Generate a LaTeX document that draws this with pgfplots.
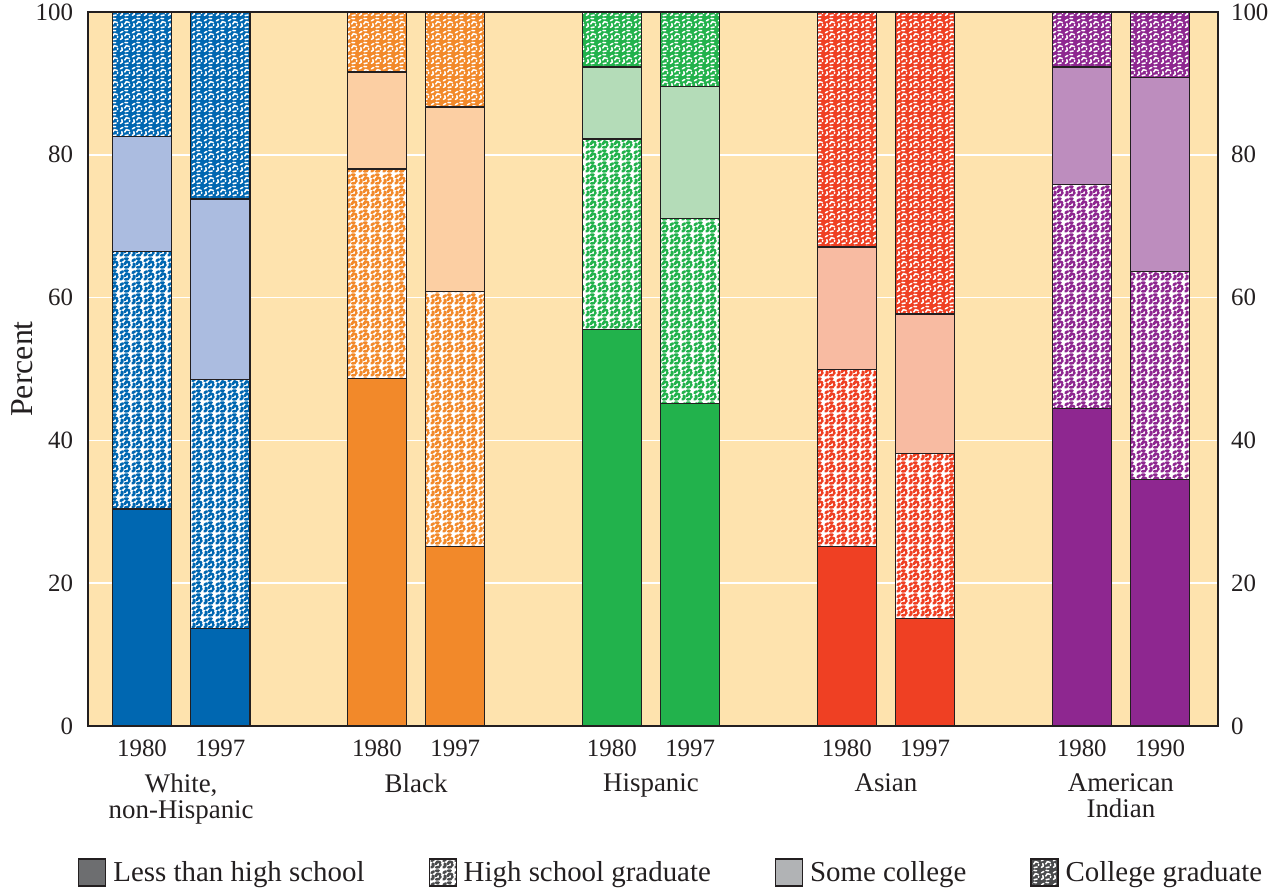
\documentclass[border=0pt]{standalone}
\usepackage{fontspec}
\setmainfont{Liberation Serif}
\usepackage{pgfplots}
\pgfplotsset{compat=1.18}
\usetikzlibrary{patterns}

\definecolor{bg}{HTML}{FEE3AE}
\definecolor{linec}{HTML}{231F20}
\definecolor{cB}{HTML}{0067B1}
\definecolor{cBl}{HTML}{ABBCE0}
\definecolor{cO}{HTML}{F2892A}
\definecolor{cOl}{HTML}{FCCFA3}
\definecolor{cG}{HTML}{22B24C}
\definecolor{cGl}{HTML}{B4DCB8}
\definecolor{cR}{HTML}{EF4023}
\definecolor{cRl}{HTML}{F8BBA2}
\definecolor{cP}{HTML}{8E2790}
\definecolor{cPl}{HTML}{BD8DBE}
\definecolor{gD}{HTML}{6D6E70}
\definecolor{gL}{HTML}{B1B3B5}
\definecolor{gP}{HTML}{4A4B4D}

\pgfdeclarepatternformonly{wormsA}{\pgfqpoint{0pt}{0pt}}{\pgfqpoint{6pt}{6pt}}{\pgfqpoint{6pt}{6pt}}{%
 \pgfsetlinewidth{1.35pt}\pgfsetroundcap\pgfsetroundjoin
 \pgfpathmoveto{\pgfqpoint{0.8pt}{0.8pt}}\pgfpathlineto{\pgfqpoint{1.7pt}{1.5pt}}\pgfpathlineto{\pgfqpoint{1.4pt}{2.7pt}}
 \pgfpathmoveto{\pgfqpoint{3.1pt}{0.8pt}}\pgfpathlineto{\pgfqpoint{4.6pt}{1.0pt}}
 \pgfpathmoveto{\pgfqpoint{2.9pt}{2.5pt}}\pgfpathlineto{\pgfqpoint{3.7pt}{3.7pt}}\pgfpathlineto{\pgfqpoint{5.1pt}{3.3pt}}
 \pgfpathmoveto{\pgfqpoint{0.8pt}{4.1pt}}\pgfpathlineto{\pgfqpoint{1.9pt}{4.8pt}}
 \pgfpathmoveto{\pgfqpoint{3.0pt}{5.2pt}}\pgfpathlineto{\pgfqpoint{4.3pt}{5.2pt}}
 \pgfpathmoveto{\pgfqpoint{5.2pt}{1.8pt}}\pgfpathlineto{\pgfqpoint{5.2pt}{2.4pt}}
 \pgfusepath{stroke}}

\pgfdeclarepatternformonly{wormsB}{\pgfqpoint{0pt}{0pt}}{\pgfqpoint{6pt}{6pt}}{\pgfqpoint{6pt}{6pt}}{%
 \pgfsetlinewidth{0.75pt}\pgfsetroundcap\pgfsetroundjoin
 \pgfpathmoveto{\pgfqpoint{0.7pt}{0.8pt}}\pgfpathlineto{\pgfqpoint{1.7pt}{1.5pt}}\pgfpathlineto{\pgfqpoint{1.4pt}{2.7pt}}
 \pgfpathmoveto{\pgfqpoint{3.1pt}{0.7pt}}\pgfpathlineto{\pgfqpoint{4.6pt}{1.0pt}}
 \pgfpathmoveto{\pgfqpoint{2.9pt}{2.5pt}}\pgfpathlineto{\pgfqpoint{3.7pt}{3.7pt}}\pgfpathlineto{\pgfqpoint{5.1pt}{3.3pt}}
 \pgfpathmoveto{\pgfqpoint{0.7pt}{4.1pt}}\pgfpathlineto{\pgfqpoint{1.9pt}{4.8pt}}
 \pgfpathmoveto{\pgfqpoint{3.0pt}{5.3pt}}\pgfpathlineto{\pgfqpoint{4.3pt}{5.2pt}}
 \pgfpathmoveto{\pgfqpoint{5.3pt}{1.8pt}}\pgfpathlineto{\pgfqpoint{5.3pt}{2.4pt}}
 \pgfusepath{stroke}}

\tikzset{
  solidseg/.style={fill=#1, draw=linec, line width=0.6pt},
  patA/.style={pattern=wormsA, pattern color=#1, draw=linec, line width=0.6pt},
  patB/.style={pattern=wormsB, pattern color=#1, draw=linec, line width=0.6pt},
  hsseg/.style={fill=white, draw=linec, line width=0.6pt,
     postaction={pattern=wormsA, pattern color=#1},
     postaction={draw=linec, line width=0.6pt}},
  cgseg/.style={fill=#1, draw=linec, line width=0.6pt,
     postaction={pattern=wormsB, pattern color=white},
     postaction={draw=linec, line width=0.6pt}},
}

\pgfplotsset{
  common/.style={
    scale only axis, width=565bp, height=357bp,
    xmin=-0.69, xmax=13.74, ymin=0, ymax=100,
    ytick={0,20,40,60,80,100},
    major tick length=0pt,
    /pgf/number format/assume math mode=true,
    tick label style={font=\fontsize{12.5}{14}\selectfont, text=linec},
  },
}

\begin{document}
\begin{tikzpicture}
\path[use as bounding box] (-44bp,-83bp) rectangle (596bp,363bp);
\begin{axis}[common,
  axis background/.style={fill=bg},
  axis line style={draw=linec, line width=0.6pt},
  ymajorgrids, grid style={white, line width=0.8bp},
  ybar, bar width=0.756, bar shift=0pt,
  xtick={0,1,3,4,6,7,9,10,12,13},
  xticklabels={1980,1997,1980,1997,1980,1997,1980,1997,1980,1990},
  xticklabel style={yshift=-3.5bp},
  yticklabel style={xshift=-4bp},
  extra x ticks={0.5,3.5,6.5,9.5,12.5},
  extra x tick labels={{White,\\non-Hispanic},Black,Hispanic,Asian,{American\\Indian}},
  extra x tick style={grid=none, major tick length=0pt,
     tick label style={font=\fontsize{13.5}{13}\selectfont, align=center, yshift=-17bp}},
  ylabel={Percent},
  every axis y label/.style={at={(axis description cs:-0.058,0.5)}, anchor=center, rotate=90,
     font=\fontsize{16}{18}\selectfont, text=linec},
  legend columns=4,
  legend style={draw=none, fill=none, at={(0.517,-0.206)}, anchor=center,
     font=\fontsize{14.5}{16}\selectfont, text=linec,
     /tikz/every even column/.append style={column sep=30bp},
     /tikz/every odd column/.append style={column sep=1.5bp}},
]
% White, non-Hispanic
\addplot[forget plot, solidseg=cB] coordinates {(0,100) (1,100)};
\addplot[forget plot, patB=white] coordinates {(0,100) (1,100)};
\addplot[forget plot, solidseg=cBl] coordinates {(0,82.6) (1,73.8)};
\addplot[forget plot, solidseg=white] coordinates {(0,66.4) (1,48.5)};
\addplot[forget plot, patA=cB] coordinates {(0,66.4) (1,48.5)};
\addplot[forget plot, solidseg=cB] coordinates {(0,30.4) (1,13.7)};
% Black
\addplot[forget plot, solidseg=cO] coordinates {(3,100) (4,100)};
\addplot[forget plot, patB=white] coordinates {(3,100) (4,100)};
\addplot[forget plot, solidseg=cOl] coordinates {(3,91.6) (4,86.7)};
\addplot[forget plot, solidseg=white] coordinates {(3,78.0) (4,60.9)};
\addplot[forget plot, patA=cO] coordinates {(3,78.0) (4,60.9)};
\addplot[forget plot, solidseg=cO] coordinates {(3,48.7) (4,25.1)};
% Hispanic
\addplot[forget plot, solidseg=cG] coordinates {(6,100) (7,100)};
\addplot[forget plot, patB=white] coordinates {(6,100) (7,100)};
\addplot[forget plot, solidseg=cGl] coordinates {(6,92.3) (7,89.6)};
\addplot[forget plot, solidseg=white] coordinates {(6,82.2) (7,71.1)};
\addplot[forget plot, patA=cG] coordinates {(6,82.2) (7,71.1)};
\addplot[forget plot, solidseg=cG] coordinates {(6,55.5) (7,45.2)};
% Asian
\addplot[forget plot, solidseg=cR] coordinates {(9,100) (10,100)};
\addplot[forget plot, patB=white] coordinates {(9,100) (10,100)};
\addplot[forget plot, solidseg=cRl] coordinates {(9,67.1) (10,57.7)};
\addplot[forget plot, solidseg=white] coordinates {(9,49.9) (10,38.2)};
\addplot[forget plot, patA=cR] coordinates {(9,49.9) (10,38.2)};
\addplot[forget plot, solidseg=cR] coordinates {(9,25.1) (10,15.0)};
% American Indian
\addplot[forget plot, solidseg=cP] coordinates {(12,100) (13,100)};
\addplot[forget plot, patB=white] coordinates {(12,100) (13,100)};
\addplot[forget plot, solidseg=cPl] coordinates {(12,92.3) (13,90.8)};
\addplot[forget plot, solidseg=white] coordinates {(12,75.8) (13,63.6)};
\addplot[forget plot, patA=cP] coordinates {(12,75.8) (13,63.6)};
\addplot[forget plot, solidseg=cP] coordinates {(12,44.5) (13,34.5)};

\addlegendimage{legend image code/.code={\draw[solidseg=gD] (0bp,-6.5bp) rectangle (13.5bp,7bp);}}
\addlegendentry{Less than high school}
\addlegendimage{legend image code/.code={\draw[hsseg=gP] (0bp,-6.5bp) rectangle (13.5bp,7bp);}}
\addlegendentry{High school graduate}
\addlegendimage{legend image code/.code={\draw[solidseg=gL] (0bp,-6.5bp) rectangle (13.5bp,7bp);}}
\addlegendentry{Some college}
\addlegendimage{legend image code/.code={\draw[cgseg=gP] (0bp,-6.5bp) rectangle (13.5bp,7bp);}}
\addlegendentry{College graduate}
\end{axis}
\begin{axis}[common,
  hide x axis,
  axis y line*=right,
  axis line style={draw=none},
  yticklabel pos=right,
  yticklabel style={xshift=3bp},
]
\addplot[draw=none, forget plot] coordinates {(0,0)};
\end{axis}
\end{tikzpicture}
\end{document}
